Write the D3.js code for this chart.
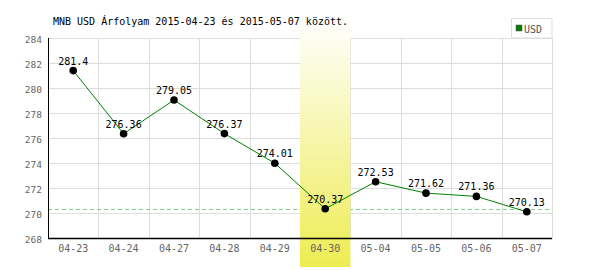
<!DOCTYPE html>
<html>
<head>
    <meta charset="utf-8" />
    <title>MNB USD</title>
    <script type="text/javascript" src="https://cdn.jsdelivr.net/npm/d3@7"></script>
    <style>
        body { margin: 0; background: #fff; }
        text { font-family: "DejaVu Sans Mono", monospace; }
    </style>
</head>
<body>
    <script type="text/javascript">

        // data
        var dates = ["04-23", "04-24", "04-27", "04-28", "04-29", "04-30", "05-04", "05-05", "05-06", "05-07"];
        var values = [281.4, 276.36, 279.05, 276.37, 274.01, 270.37, 272.53, 271.62, 271.36, 270.13];
        var labels = ["281.4", "276.36", "279.05", "276.37", "274.01", "270.37", "272.53", "271.62", "271.36", "270.13"];
        var yTicks = [268, 270, 272, 274, 276, 278, 280, 282, 284];
        var highlightDate = "04-30";
        var refValue = 270.37;
        var title = "MNB USD Árfolyam 2015-04-23 és 2015-05-07 között.";

        var w = 600, h = 270;
        // plot box (note: "top" is reserved on window, so padTop etc.)
        var padLeft = 48, padRight = 552, padTop = 38, padBottom = 238.5;

        var svg = d3.select("body").append("svg")
            .attr("width", w)
            .attr("height", h);

        var xScale = d3.scaleBand()
            .domain(dates)
            .range([padLeft, padRight]);

        var yScale = d3.scaleLinear()
            .domain([268, 284])
            .range([padBottom, padTop]);

        // gradient for the highlighted day
        var grad = svg.append("defs").append("linearGradient")
            .attr("id", "hl")
            .attr("x1", 0).attr("y1", 0).attr("x2", 0).attr("y2", 1);
        grad.append("stop").attr("offset", "0%").attr("stop-color", "#ffffff");
        grad.append("stop").attr("offset", "100%").attr("stop-color", "#eeec52");

        // grid
        svg.append("g")
            .selectAll("line")
            .data(yTicks.slice(1))
            .enter()
            .append("line")
            .attr("x1", padLeft).attr("x2", padRight)
            .attr("y1", function (d) { return Math.round(yScale(d)) + 0.5; })
            .attr("y2", function (d) { return Math.round(yScale(d)) + 0.5; })
            .attr("stroke", "#dddddd");

        svg.append("g")
            .selectAll("line")
            .data(dates)
            .enter()
            .append("line")
            .attr("x1", function (d) { return Math.round(xScale(d) + xScale.bandwidth()) + 0.5; })
            .attr("x2", function (d) { return Math.round(xScale(d) + xScale.bandwidth()) + 0.5; })
            .attr("y1", padTop).attr("y2", padBottom)
            .attr("stroke", "#dddddd");

        // reference dashed line
        svg.append("line")
            .attr("x1", padLeft).attr("x2", padRight)
            .attr("y1", Math.round(yScale(refValue)) + 0.5)
            .attr("y2", Math.round(yScale(refValue)) + 0.5)
            .attr("stroke", "#7fd07f")
            .attr("stroke-dasharray", "4,3");

        // highlighted column
        svg.append("rect")
            .attr("x", xScale(highlightDate))
            .attr("y", 18)
            .attr("width", xScale.bandwidth())
            .attr("height", 267 - 18)
            .attr("fill", "url(#hl)");

        // axes lines
        svg.append("line")
            .attr("x1", padLeft + 0.5).attr("x2", padLeft + 0.5)
            .attr("y1", padTop).attr("y2", padBottom)
            .attr("stroke", "#000");
        svg.append("line")
            .attr("x1", padLeft).attr("x2", padRight)
            .attr("y1", padBottom).attr("y2", padBottom)
            .attr("stroke", "#000")
            .attr("stroke-width", 1.5);

        // tick labels
        svg.append("g")
            .selectAll("text")
            .data(yTicks)
            .enter()
            .append("text")
            .attr("x", 42)
            .attr("y", function (d) { return yScale(d) + 4.5; })
            .attr("text-anchor", "end")
            .attr("font-size", "9.5px")
            .attr("fill", "#666")
            .text(function (d) { return d; });

        svg.append("g")
            .selectAll("text")
            .data(dates)
            .enter()
            .append("text")
            .attr("x", function (d) { return xScale(d) + xScale.bandwidth() / 2; })
            .attr("y", 252)
            .attr("text-anchor", "middle")
            .attr("font-size", "10px")
            .attr("fill", "#666")
            .text(function (d) { return d; });

        // series line
        var line = d3.line()
            .x(function (d, i) { return xScale(dates[i]) + xScale.bandwidth() / 2; })
            .y(function (d) { return yScale(d); });

        svg.append("path")
            .datum(values)
            .attr("d", line)
            .attr("fill", "none")
            .attr("stroke", "#008000")
            .attr("stroke-width", 1);

        svg.append("g")
            .selectAll("circle")
            .data(values)
            .enter()
            .append("circle")
            .attr("cx", function (d, i) { return xScale(dates[i]) + xScale.bandwidth() / 2; })
            .attr("cy", function (d) { return yScale(d); })
            .attr("r", 3.8)
            .attr("fill", "#000");

        svg.append("g")
            .selectAll("text")
            .data(values)
            .enter()
            .append("text")
            .attr("x", function (d, i) { return xScale(dates[i]) + xScale.bandwidth() / 2; })
            .attr("y", function (d) { return yScale(d) - 6; })
            .attr("text-anchor", "middle")
            .attr("font-size", "10px")
            .attr("fill", "#000")
            .text(function (d, i) { return labels[i]; });

        // title
        svg.append("text")
            .attr("x", 53)
            .attr("y", 25)
            .attr("font-size", "10px")
            .attr("fill", "#000")
            .text(title);

        // legend
        var lg = svg.append("g");
        lg.append("rect")
            .attr("x", 511.5).attr("y", 18.5)
            .attr("width", 40.5).attr("height", 19.5)
            .attr("fill", "#fff")
            .attr("stroke", "#dddddd");
        lg.append("rect")
            .attr("x", 516).attr("y", 25)
            .attr("width", 6).attr("height", 6)
            .attr("fill", "#008000")
            .attr("stroke", "#555")
            .attr("stroke-width", 0.5);
        lg.append("text")
            .attr("x", 524)
            .attr("y", 32.5)
            .attr("font-size", "10px")
            .attr("fill", "#555")
            .text("USD");

    </script>
</body>
</html>
